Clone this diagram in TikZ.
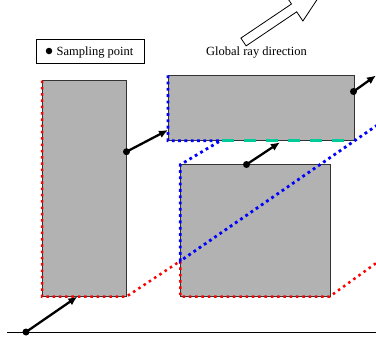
\documentclass[tikz,border=0pt]{standalone}
\usepackage{fontspec}
\setmainfont{Liberation Serif}
\usetikzlibrary{arrows.meta}
\definecolor{boxgray}{gray}{0.7}
\definecolor{tealg}{RGB}{0,204,153}
\tikzset{
  block/.style={fill=boxgray, draw=black!80, line width=0.9pt},
  reddots/.style={red, line width=2.5pt, dash pattern=on 2.5pt off 3.8pt},
  bluedots/.style={blue, line width=2.8pt, dash pattern=on 2.8pt off 3.5pt},
  raydash/.style={tealg, line width=3pt, dash pattern=on 12pt off 10pt},
  ray/.style={line width=2.3pt, -{Latex[length=9pt,width=8pt]}},
  spt/.style={circle, fill=black, inner sep=0pt, minimum size=7pt},
  lbl/.style={font=\fontsize{12.5}{15}\selectfont, inner sep=0pt},
  hollow/.style={draw=black, line width=0.8pt, fill=white, line join=miter}
}
\begin{document}
\begin{tikzpicture}[x=1pt, y=-1pt]
\useasboundingbox (0,0) rectangle (376,343);
\clip (0,0) rectangle (376,343);
% blocks
\path[block] (42,80.5) rectangle (126.3,296.7);
\path[block] (168,75.3) rectangle (354,140.7);
\path[block] (180.3,164.7) rectangle (330,296.7);
% baseline
\coordinate (g0) at (7,332.3);
\coordinate (g1) at (376,332.3);
\draw[line width=1.2pt] (g0) -- (g1);
% red shadow boundary
\draw[reddots] (42,80.5) -- (42,296.7) -- (126.3,296.7) -- (180.3,261) -- (180.3,296.7) -- (329.5,296.7) -- (390,253.1);
% blue shadow boundary
\draw[bluedots] (168,75.3) -- (168,140.7) -- (220.5,140.7) -- (180.3,164.7) -- (180.3,261) -- (390,116.3);
% green dashed
\coordinate (gd0) at (222,140.7);
\coordinate (gd1) at (354,140.7);
\draw[raydash] (gd0) -- (gd1);
% sampling points and rays
\node[spt] (s1) at (26,332) {};
\node[spt] (s2) at (126.5,151.7) {};
\node[spt] (s3) at (246.5,164.5) {};
\node[spt] (s4) at (353.5,91.5) {};
\coordinate (t1) at (77.3,296.7);
\coordinate (t2) at (168,130);
\coordinate (t3) at (280,142.3);
\coordinate (t4) at (376,75.5);
\draw[ray] (s1.center) -- (t1);
\draw[ray] (s2.center) -- (t2);
\draw[ray] (s3.center) -- (t3);
\draw[ray] (s4.center) -- (t4);
% legend
\draw[line width=0.8pt] (36,39) rectangle (144,63);
\node[spt, minimum size=6.5pt] (ld) at (49,51) {};
\node[lbl, anchor=base west] (lt) at (56.5,55.5) {Sampling point};
% global ray direction
\node[lbl, anchor=base] (gt) at (256.5,55.5) {Global ray direction};
\draw[hollow] (246.1,45.9) -- (296.7,11.8) -- (302.9,21.0) -- (325.6,-13.3) -- (285.3,-5.2) -- (291.5,4.0) -- (240.9,38.1) -- cycle;
\end{tikzpicture}
\end{document}
